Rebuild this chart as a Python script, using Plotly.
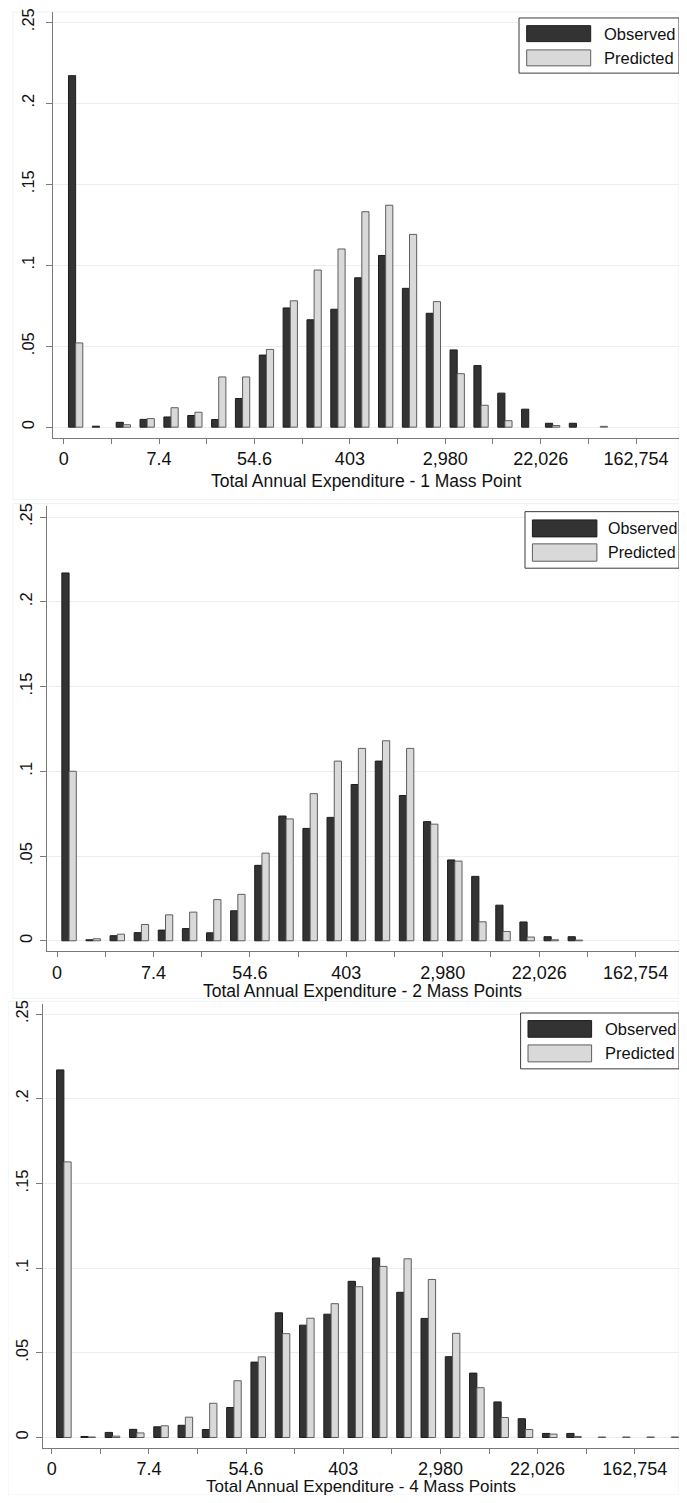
import plotly.graph_objects as go

# ---------------- data ----------------
bins = [0.25 + 0.5 * i for i in range(26)]  # ln(expenditure) bin centres

observed = [0.217, 0.0006, 0.0030, 0.0048, 0.0063, 0.0072, 0.0047, 0.0177,
            0.0445, 0.0736, 0.0663, 0.0728, 0.0922, 0.1060, 0.0857, 0.0703,
            0.0477, 0.0380, 0.0210, 0.0111, 0.0024, 0.0024, 0.0, 0.0, 0.0, 0.0]

predicted_1 = [0.052, 0.0, 0.0015, 0.0053, 0.0120, 0.0092, 0.0310, 0.0310,
               0.0480, 0.0780, 0.0970, 0.1100, 0.1330, 0.1370, 0.1190, 0.0775,
               0.0330, 0.0135, 0.0040, 0.0, 0.0010, 0.0, 0.0005, 0.0, 0.0, 0.0]

predicted_2 = [0.100, 0.0012, 0.0039, 0.0096, 0.0153, 0.0169, 0.0243, 0.0274,
               0.0517, 0.0719, 0.0868, 0.1060, 0.1135, 0.1180, 0.1135, 0.0688,
               0.0470, 0.0112, 0.0055, 0.0022, 0.0006, 0.0004, 0.0, 0.0, 0.0, 0.0]

predicted_4 = [0.1627, 0.0003, 0.0008, 0.0027, 0.0069, 0.0120, 0.0202, 0.0335,
               0.0476, 0.0613, 0.0704, 0.0790, 0.0890, 0.1010, 0.1055, 0.0933,
               0.0615, 0.0294, 0.0118, 0.0047, 0.0020, 0.0006, 0.0003, 0.0003,
               0.0003, 0.0003]

x_tick_vals = list(range(14))
x_tick_text = ["0", "", "7.4", "", "54.6", "", "403", "", "2,980", "",
               "22,026", "", "162,754", ""]
y_tick_vals = [0, 0.05, 0.10, 0.15, 0.20, 0.25]
y_tick_text = ["0", ".05", ".1", ".15", ".2", ".25"]

panel_titles = ["Total Annual Expenditure - 1 Mass Point",
                "Total Annual Expenditure - 2 Mass Points",
                "Total Annual Expenditure - 4 Mass Points"]
predicted_sets = [predicted_1, predicted_2, predicted_4]
series_names = ["Observed", "Predicted"]

# ---------------- styling / geometry ----------------
PAGE_W, PAGE_H = 687, 1503
BODY = 8                      # default page margin around the plot div
W, H = PAGE_W - 2 * BODY, PAGE_H - 2 * BODY
FONT = "Liberation Sans, Arial, Helvetica, sans-serif"
OBS_FILL, OBS_LINE = "#333333", "#1c1c1c"
PRED_FILL, PRED_LINE = "#d9d9d9", "#5e5e5e"
GRID = "#e6eff1"
AXIS = "#7a7a7a"
TXT = "#111111"

# page-pixel geometry of each plot region: left, top, bottom, x-range, y-range
panels = [
    dict(left=52.6, top=8.0, bottom=435.0, xr=[-0.233, 12.9], yr=[-0.0066, 0.2563],
         ystand=5, title_y=478, title_fs=17.5,
         leg=dict(x0=519, y0=14, y1=69.3, sx0=526.7, sx1=590.7,
                  o=(21.7, 37.7), p=(46.0, 62.0), tx=601.7, fs=16.5)),
    dict(left=46.9, top=503.5, bottom=950.0, xr=[-0.21, 12.9], yr=[-0.0063, 0.2564],
         ystand=1, title_y=990, title_fs=17.5,
         leg=dict(x0=525, y0=509, y1=565.7, sx0=532.4, sx1=596.9,
                  o=(517.3, 534.3), p=(541.3, 558.7), tx=606.0, fs=16)),
    dict(left=42.5, top=1002.7, bottom=1447.7, xr=[-0.19, 12.91], yr=[-0.0061, 0.2559],
         ystand=1, title_y=1486, title_fs=17,
         leg=dict(x0=520.6, y0=1011.7, y1=1067.7, sx0=528, sx1=591.6,
                  o=(1019.3, 1036.0), p=(1043.7, 1060.7), tx=603.4, fs=16.5)),
]


def px(x):
    return min(max((x - BODY) / W, 0), 1)


def py(y):
    return min(max(1 - (y - BODY) / H, 0), 1)


def shown(vals):
    # empty bins are not drawn at all (no zero-height outline)
    return [v if v > 0 else None for v in vals]


fig = go.Figure()
shapes, annotations = [], []

for i, (pan, pred) in enumerate(zip(panels, predicted_sets)):
    n = "" if i == 0 else str(i + 1)
    xa, ya = "x" + n, "y" + n
    fig.add_trace(go.Bar(x=bins, y=shown(observed), name=series_names[0], xaxis=xa, yaxis=ya,
                         marker=dict(color=OBS_FILL, line=dict(color=OBS_LINE, width=1)),
                         showlegend=False))
    fig.add_trace(go.Bar(x=bins, y=shown(pred), name=series_names[1], xaxis=xa, yaxis=ya,
                         marker=dict(color=PRED_FILL, line=dict(color=PRED_LINE, width=1)),
                         showlegend=False))
    fig.layout["xaxis" + n] = dict(
        domain=[px(pan["left"]), 1], range=pan["xr"], anchor=ya,
        tickmode="array", tickvals=x_tick_vals, ticktext=x_tick_text,
        ticks="outside", ticklen=5, tickcolor=AXIS, tickwidth=1,
        showline=True, linecolor=AXIS, linewidth=1, showgrid=False, zeroline=False,
        tickfont=dict(family=FONT, size=18, color=TXT),
    )
    fig.layout["yaxis" + n] = dict(
        domain=[py(pan["bottom"]), py(pan["top"])], range=pan["yr"], anchor=xa,
        tickmode="array", tickvals=y_tick_vals, ticktext=y_tick_text, tickangle=-90,
        ticks="outside", ticklen=6, tickcolor=AXIS, tickwidth=1,
        ticklabelstandoff=pan["ystand"],
        showline=True, linecolor=AXIS, linewidth=1, showgrid=True, gridcolor=GRID,
        gridwidth=1, zeroline=False,
        tickfont=dict(family=FONT, size=16.5, color=TXT),
    )
    # axis title
    annotations.append(dict(text=panel_titles[i], xref="paper", yref="paper",
                            x=(px(pan["left"]) + 1) / 2, y=py(pan["title_y"]),
                            xanchor="center", yanchor="middle", showarrow=False,
                            font=dict(family=FONT, size=pan["title_fs"], color=TXT)))
    # legend box drawn like the Stata key
    lg = pan["leg"]
    shapes.append(dict(type="rect", xref="paper", yref="paper",
                       x0=px(lg["x0"]), x1=1, y0=py(lg["y1"]), y1=py(lg["y0"]),
                       line=dict(color="#3a3a3a", width=1), fillcolor="white", layer="above"))
    for (y0, y1), fill, line, name in [(lg["o"], OBS_FILL, OBS_LINE, series_names[0]),
                                       (lg["p"], PRED_FILL, PRED_LINE, series_names[1])]:
        shapes.append(dict(type="rect", xref="paper", yref="paper",
                           x0=px(lg["sx0"]), x1=px(lg["sx1"]), y0=py(y1), y1=py(y0),
                           line=dict(color=line, width=1), fillcolor=fill, layer="above"))
        annotations.append(dict(text=name, xref="paper", yref="paper",
                                x=px(lg["tx"]), y=py((y0 + y1) / 2),
                                xanchor="left", yanchor="middle", showarrow=False,
                                font=dict(family=FONT, size=lg["fs"], color=TXT)))

# faint graph-region outlines
for (t, b, l) in [(8, 497, 13), (501, 997, 13), (1000, 1495, 8)]:
    shapes.append(dict(type="rect", xref="paper", yref="paper",
                       x0=px(l), x1=1, y0=py(b), y1=py(t),
                       line=dict(color="#edf2f3", width=1), layer="below"))

fig.update_layout(
    width=W, height=H, margin=dict(l=0, r=0, t=0, b=0),
    paper_bgcolor="white", plot_bgcolor="white",
    barmode="group", bargap=0.4, bargroupgap=0.0,
    shapes=shapes, annotations=annotations, showlegend=False,
    font=dict(family=FONT, color=TXT),
)

fig.write_html("out.html")
